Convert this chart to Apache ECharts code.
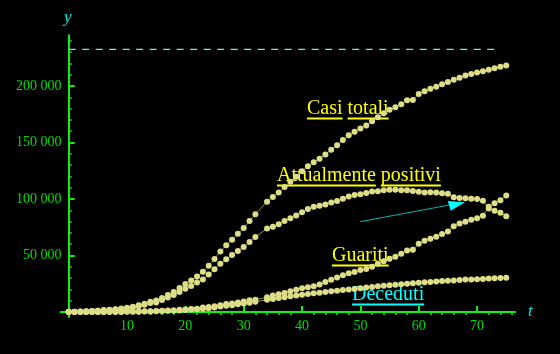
<!DOCTYPE html>
<html>
<head>
<meta charset="utf-8">
<script src="https://cdn.jsdelivr.net/npm/echarts@6/dist/echarts.min.js"></script>
<style>
  html, body { margin: 0; padding: 0; background: #000; }
  #chart { width: 560px; height: 354px; }
</style>
</head>
<body>
<div id="chart"></div>
<script>
// giorni (t) e dati; t = 33 manca nell'originale
const days = [0,1,2,3,4,5,6,7,8,9,10,11,12,13,14,15,16,17,18,19,20,21,22,23,24,25,26,27,28,29,
  30,31,32,33,34,35,36,37,38,39,40,41,42,43,44,45,46,47,48,49,50,51,52,53,54,55,56,57,58,59,
  60,61,62,63,64,65,66,67,68,69,70,71,72,73,74,75];

const casiTotali = [229,322,400,650,888,1128,1694,2036,2502,3089,
  3858,4636,5883,7375,9172,10149,12462,15113,17660,21157,
  24747,27980,31506,35713,41035,47021,53578,59138,63927,69176,
  74386,80539,86498,null,97689,101739,105792,110574,115242,119827,
  124632,128948,132547,135586,139422,143626,147577,152271,156363,159516,
  162488,165155,168941,172434,175925,178972,181228,183957,187327,187600,
  192994,195351,197675,199414,201505,203591,205463,207428,209328,210717,
  211938,213013,214457,215858,217185,218268];

const attualmentePositivi = [221,311,385,588,821,1049,1577,1835,2263,2706,
  3296,3916,5061,6387,7985,8514,10590,12839,14955,17750,
  20603,23073,26062,28710,33190,37860,42681,46638,50418,54030,
  57521,62013,66414,null,73880,75528,77635,80572,83049,85388,
  88274,91246,93187,94067,95262,96877,98273,100269,102253,103616,
  104291,105418,106607,106962,107771,108257,108237,107709,107699,107100,
  106527,105847,106103,105813,105205,104657,101551,100943,100704,100179,
  99980,98467,91528,89624,87961,84842];

const guariti = [1,1,3,45,46,50,83,149,160,276,
  414,523,589,622,724,1004,1045,1258,1439,1966,
  2335,2749,2941,4025,4440,5129,6072,7024,7432,8326,
  9362,10361,10950,null,13030,14620,15729,16847,18278,19758,
  20996,21815,22837,24392,26491,28470,30455,32534,34211,35435,
  37130,38092,40164,42727,44927,47055,48877,51600,54543,55000,
  60498,63120,64928,66624,68941,71252,75945,78249,79914,81654,
  82879,85231,93245,96276,99023,103031];

const deceduti = [7,10,12,17,21,29,34,52,79,107,
  148,197,233,366,463,631,827,1016,1266,1441,
  1809,2158,2503,2978,3405,4032,4825,5476,6077,6820,
  7503,8165,9134,null,10779,11591,12428,13155,13915,14681,
  15362,15887,16523,17127,17669,18279,18849,19468,19899,20465,
  21067,21645,22170,22745,23227,23660,24114,24648,25085,25500,
  25969,26384,26644,26977,27359,27682,27967,28236,28710,28884,
  29079,29315,29684,29958,30201,30395];

// linea tratteggiata orizzontale
const limiteX = [0, 73.9];
const limiteY = [232500, 232500];

// tacche e etichette
const xLabels = [10, 20, 30, 40, 50, 60, 70];
const xMinor = [2,4,6,8,12,14,16,18,22,24,26,28,32,34,36,38,42,44,46,48,52,54,56,58,62,64,66,68,72,74,76];
const yLabels = [50000, 100000, 150000, 200000];
const yMinor = [10000,20000,30000,40000,60000,70000,80000,90000,110000,120000,130000,140000,
  160000,170000,180000,190000,210000,220000,230000,240000];

const seriesNames = ['Casi totali', 'Attualmente positivi', 'Guariti', 'Deceduti'];
const seriesValues = [casiTotali, attualmentePositivi, guariti, deceduti];

const axisGreen = '#11ee11';
const labelGreen = '#00dd00';
const serif = '"Liberation Serif", "DejaVu Serif", serif';

function pairs(xs, ys) {
    return xs.map((x, i) => [x, ys[i]]);
}

function baseX(extra) {
    return Object.assign({
        type: 'value', min: -1.4, max: 76.5,
        splitLine: { show: false }
    }, extra);
}
function baseY(extra) {
    return Object.assign({
        type: 'value', min: -4500, max: 245000, position: 'left',
        splitLine: { show: false }
    }, extra);
}

const chart = echarts.init(document.getElementById('chart'));

const option = {
    animation: false,
    backgroundColor: '#000',
    grid: { left: 60.5, right: 45, top: 35.2, bottom: 36.9 },
    xAxis: [
        baseX({
            axisLine: { onZero: true, lineStyle: { color: axisGreen, width: 2 } },
            axisTick: { inside: true, length: 6, customValues: xLabels, lineStyle: { color: axisGreen, width: 2 } },
            axisLabel: { customValues: xLabels, color: labelGreen, fontFamily: serif, fontSize: 14, margin: 2.5 }
        }),
        baseX({
            axisLine: { show: false, onZero: true },
            axisTick: { inside: true, length: 3, customValues: xMinor, lineStyle: { color: axisGreen, width: 1.5 } },
            axisLabel: { show: false }
        })
    ],
    yAxis: [
        baseY({
            axisLine: { onZero: true, lineStyle: { color: axisGreen, width: 2 } },
            axisTick: { inside: true, length: 6, customValues: yLabels, lineStyle: { color: axisGreen, width: 2 } },
            axisLabel: {
                customValues: yLabels, color: labelGreen, fontFamily: serif, fontSize: 14, margin: -1,
                formatter: v => Math.round(v / 1000) + ' 000'
            }
        }),
        baseY({
            axisLine: { show: false },
            axisTick: { inside: true, length: 3, customValues: yMinor, lineStyle: { color: axisGreen, width: 1.5 } },
            axisLabel: { show: false }
        })
    ],
    series: seriesNames.map((name, i) => ({
        name: name,
        type: 'line',
        data: pairs(days, seriesValues[i]),
        connectNulls: true,
        symbol: 'circle',
        symbolSize: 6,
        showAllSymbol: true,
        itemStyle: { color: '#dede86' },
        lineStyle: { color: '#8a8a55', width: 1 },
        z: 3
    })).concat([{
        name: 'limite',
        type: 'line',
        data: pairs(limiteX, limiteY),
        symbol: 'none',
        lineStyle: { color: '#70e8e8', width: 1.3, type: [7, 6.5] },
        z: 2
    }])
};

chart.setOption(option);

// etichette sottolineate
const ctx = document.createElement('canvas').getContext('2d');
function words(text, x, baseline, color) {
    const font = '20px ' + serif;
    ctx.font = font;
    const els = [{
        type: 'text', left: x, top: baseline - 17,
        style: { text: text, fill: color, font: font }
    }];
    let cx = x;
    text.split(' ').forEach(w => {
        const wd = ctx.measureText(w).width;
        els.push({
            type: 'line',
            shape: { x1: cx, y1: baseline + 2.5, x2: cx + wd, y2: baseline + 2.5 },
            style: { stroke: color, lineWidth: 2 }
        });
        cx += wd + ctx.measureText(' ').width;
    });
    return els;
}

const graphics = []
    .concat(words('Casi totali', 307, 116, '#ffff00'))
    .concat(words('Attualmente positivi', 277, 183, '#ffff00'))
    .concat(words('Guariti', 332, 263, '#ffff00'))
    .concat(words('Deceduti', 352, 302, '#00ffff'));

graphics.push(
    { type: 'text', left: 64, top: 9, style: { text: 'y', fill: '#00e8e8', font: 'italic 17px ' + serif } },
    { type: 'text', left: 528, top: 303, style: { text: 't', fill: '#00e8e8', font: 'italic 17px ' + serif } },
    // freccia
    { type: 'line', shape: { x1: 360, y1: 221.7, x2: 452, y2: 204.5 }, style: { stroke: '#00b5b5', lineWidth: 1 } },
    { type: 'polygon', shape: { points: [[465, 202.3], [447.7, 201], [450.7, 210.7]] }, style: { fill: '#00ffff' } }
);

chart.setOption({ graphic: graphics });

window.addEventListener('resize', function() {
    chart.resize();
});
</script>
</body>
</html>
